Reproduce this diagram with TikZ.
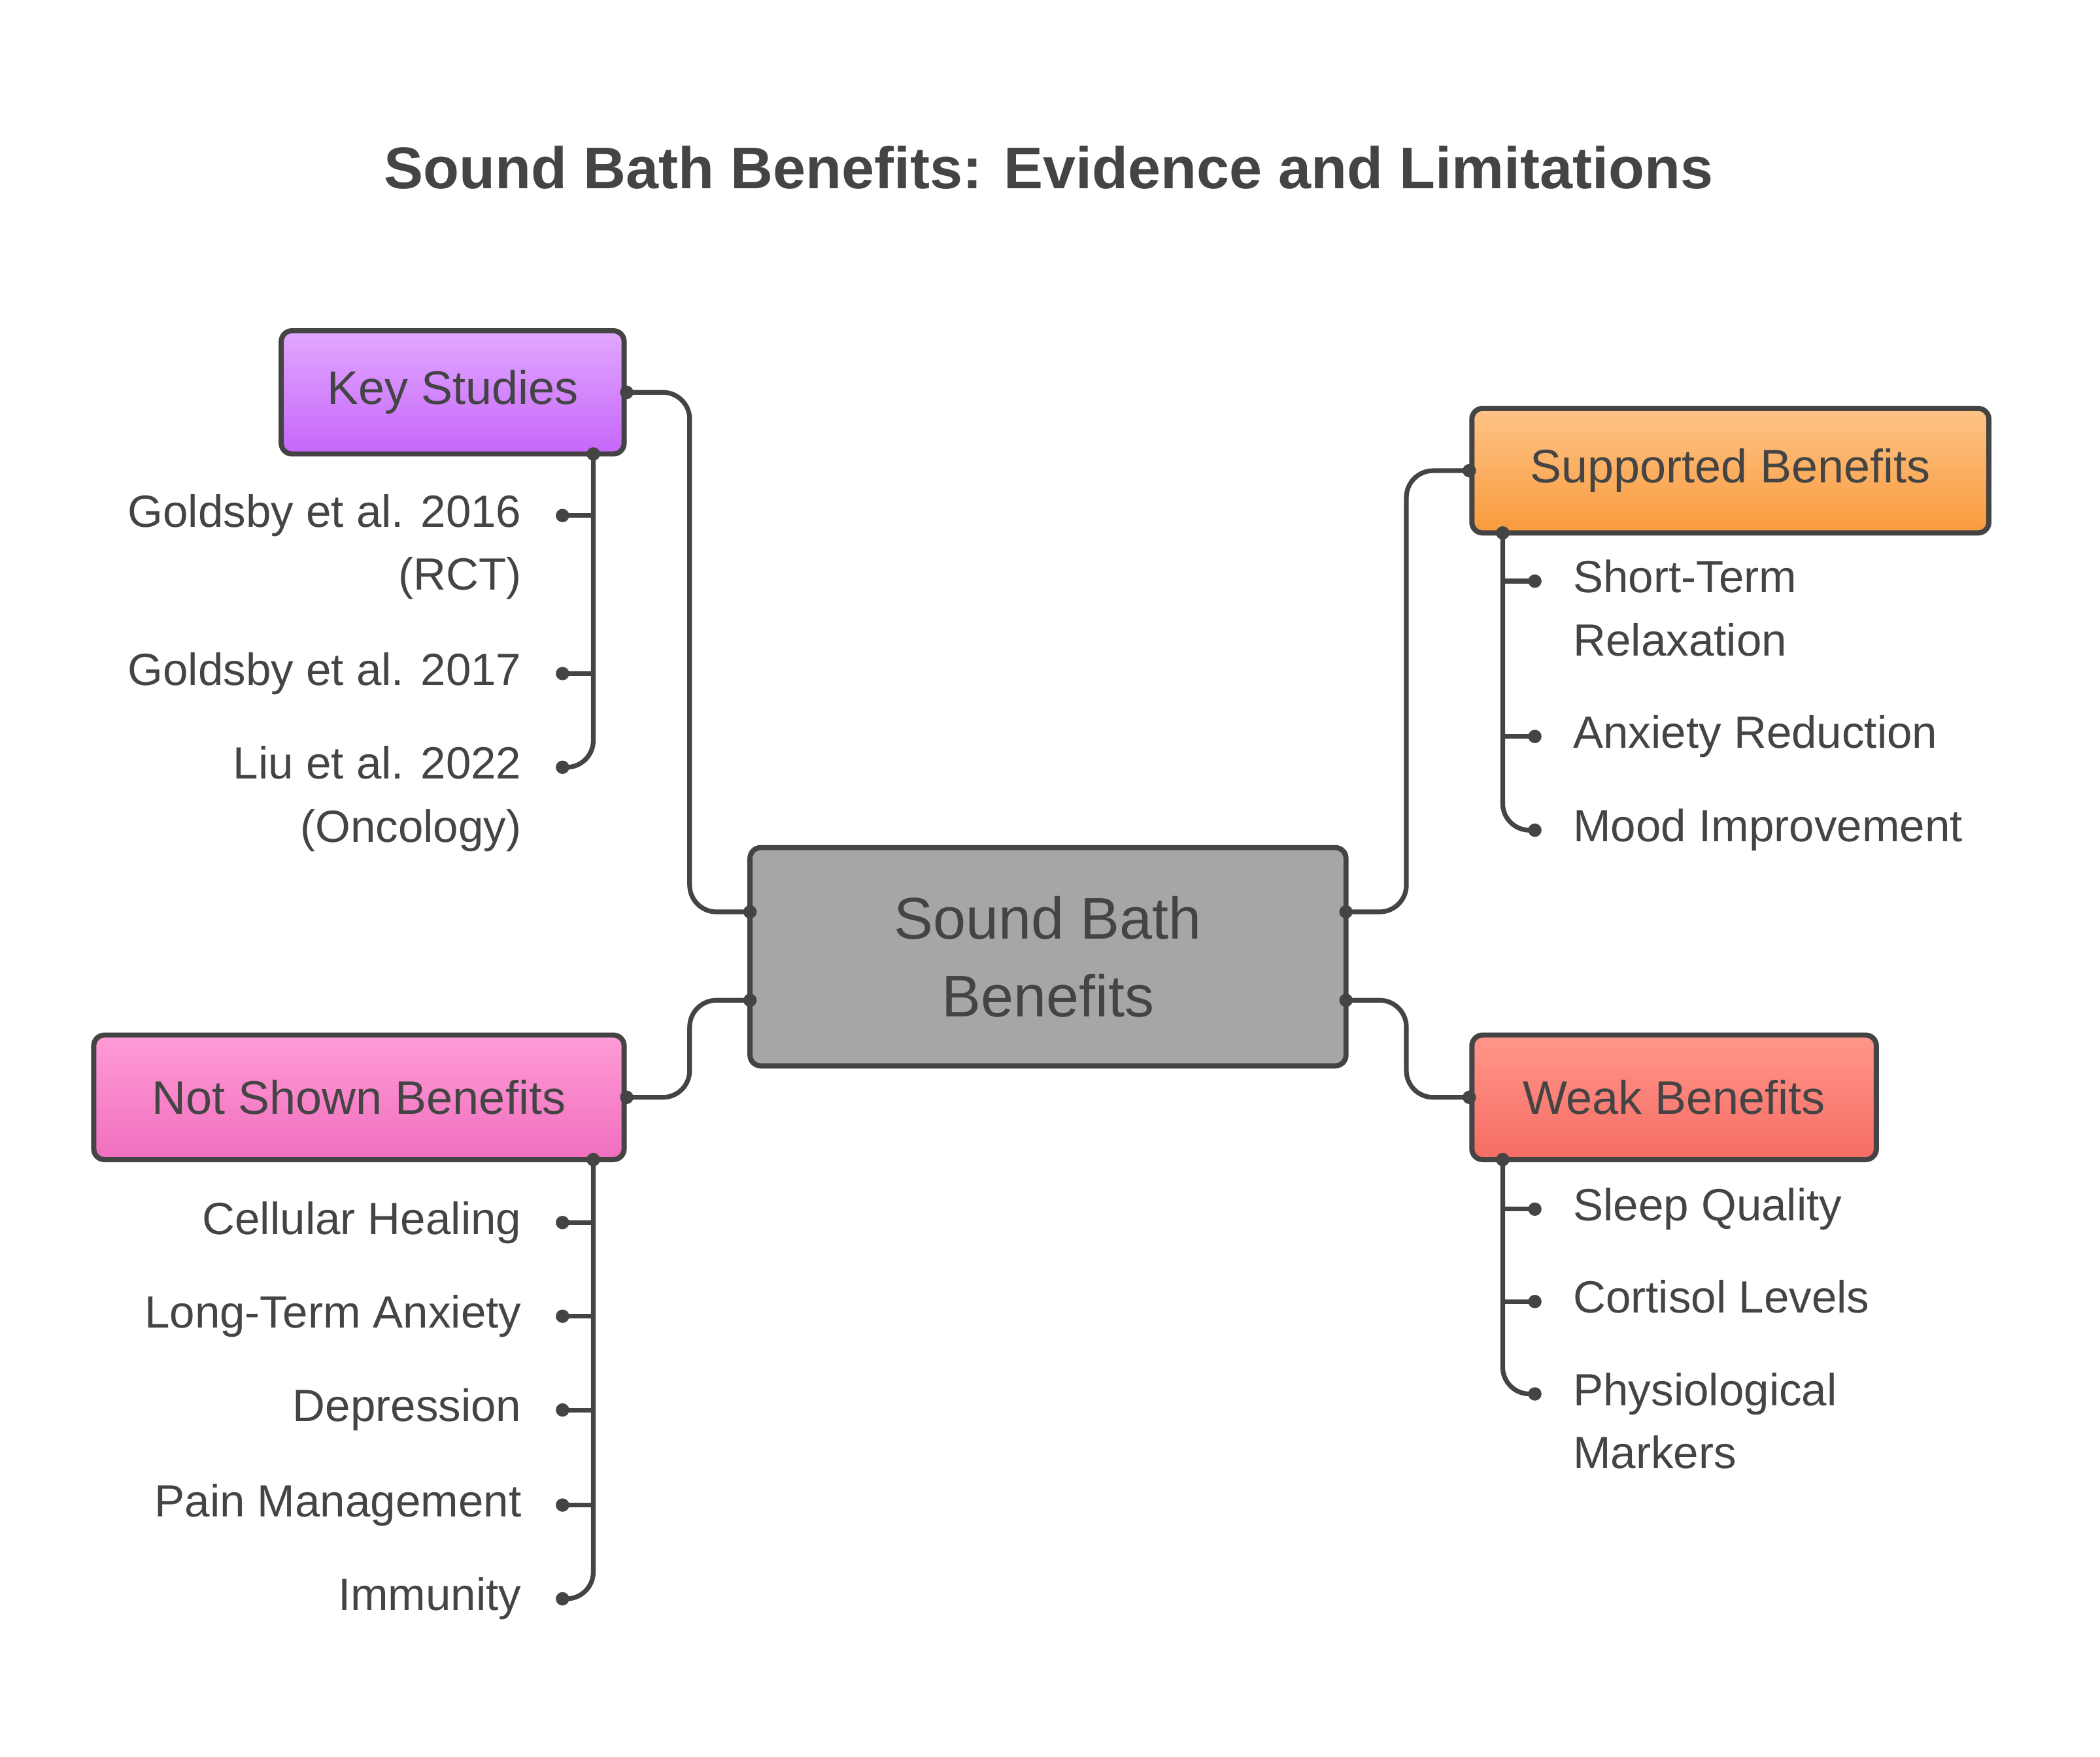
\documentclass[tikz,border=0pt]{standalone}
\usepackage{fontspec}
\setmainfont{Liberation Sans}
\usetikzlibrary{positioning, calc}
\definecolor{ink}{HTML}{444444}
\tikzset{
  box/.style={draw=ink, line width=1.1pt, rounded corners=0.08cm, inner sep=0pt,
    font=\fontsize{10}{13}\selectfont, text=ink},
  conn/.style={draw=ink, line width=1pt, rounded corners=0.2cm},
  item/.style={inner sep=0pt, font=\fontsize{9.6}{13.4}\selectfont, text=ink},
  dot/.style={fill=ink}
}
\begin{document}
\begin{tikzpicture}
  \useasboundingbox (0,0) rectangle (15.68,-13.12);
  % title
  \node[font=\bfseries\fontsize{12.5}{15}\selectfont, text=ink] (title) at (7.83,-1.25)
    {Sound Bath Benefits: Evidence and Limitations};

  % main boxes
  \node[box, fill=black!35, minimum width=4.45cm, minimum height=1.63cm, align=center,
    font=\fontsize{12.5}{16.5}\selectfont] (sbb) at (7.825,-7.145) {Sound Bath\\Benefits};
  \node[box, top color={rgb,255:red,226;green,168;blue,255}, bottom color={rgb,255:red,198;green,102;blue,250},
    minimum width=2.56cm, minimum height=0.92cm] (ks) at (3.38,-2.93) {Key Studies};
  \node[box, top color={rgb,255:red,255;green,196;blue,136}, bottom color={rgb,255:red,248;green,154;blue,60},
    minimum width=3.86cm, minimum height=0.93cm] (sb) at (12.92,-3.515) {Supported Benefits};
  \node[box, top color={rgb,255:red,255;green,150;blue,138}, bottom color={rgb,255:red,246;green,108;blue,100},
    minimum width=3.02cm, minimum height=0.93cm] (wb) at (12.50,-8.195) {Weak Benefits};
  \node[box, top color={rgb,255:red,255;green,156;blue,214}, bottom color={rgb,255:red,240;green,110;blue,190},
    minimum width=3.96cm, minimum height=0.93cm] (ns) at (2.68,-8.195) {Not Shown Benefits};

  % connectors from the centre
  \coordinate (cl1) at (5.60,-6.81);
  \coordinate (cl2) at (5.60,-7.47);
  \coordinate (cr1) at (10.05,-6.81);
  \coordinate (cr2) at (10.05,-7.47);
  \draw[conn] (ks.east) -- ++(0.47,0) |- (cl1);
  \draw[conn] (ns.east) -- ++(0.47,0) |- (cl2);
  \draw[conn] (sb.west) -- ++(-0.47,0) |- (cr1);
  \draw[conn] (wb.west) -- ++(-0.47,0) |- (cr2);
  \foreach \p in {cl1,cl2,cr1,cr2,ks.east,ns.east,sb.west,wb.west}
    \fill[dot] (\p) circle (0.05);

  % Key Studies
  \coordinate (ksb) at (4.43,-3.39);
  \foreach \n/\y/\t in {k1/3.85/{Goldsby et al. 2016 \\(RCT)}, k2/5.03/{Goldsby et al. 2017},
      k3/5.73/{Liu et al. 2022 \\(Oncology)}} {
    \coordinate (\n) at (4.20,-\y);
    \node[item, anchor=north east, align=right] (\n t) at (3.90,-\y+0.165) {\t};
  }
  \draw[conn] (ksb) -- (ksb |- k3) -- (k3);
  \foreach \n in {k1,k2} \draw[conn] (ksb |- \n) -- (\n);
  \foreach \p in {ksb,k1,k2,k3} \fill[dot] (\p) circle (0.05);

  % Not Shown Benefits
  \coordinate (nsb) at (4.43,-8.66);
  \foreach \n/\y/\t in {n1/9.13/{Cellular Healing}, n2/9.83/{Long-Term Anxiety}, n3/10.53/{Depression},
      n4/11.24/{Pain Management}, n5/11.94/{Immunity}} {
    \coordinate (\n) at (4.20,-\y);
    \node[item, anchor=north east, align=right] (\n t) at (3.90,-\y+0.165) {\t};
  }
  \draw[conn] (nsb) -- (nsb |- n5) -- (n5);
  \foreach \n in {n1,n2,n3,n4} \draw[conn] (nsb |- \n) -- (\n);
  \foreach \p in {nsb,n1,n2,n3,n4,n5} \fill[dot] (\p) circle (0.05);

  % Supported Benefits
  \coordinate (sbb0) at (11.22,-3.98);
  \foreach \n/\y/\t in {s1/4.34/{Short-Term\\Relaxation}, s2/5.50/{Anxiety Reduction},
      s3/6.20/{Mood Improvement}} {
    \coordinate (\n) at (11.46,-\y);
    \node[item, anchor=north west, align=left] (\n t) at (11.74,-\y+0.165) {\t};
  }
  \draw[conn] (sbb0) -- (sbb0 |- s3) -- (s3);
  \foreach \n in {s1,s2} \draw[conn] (sbb0 |- \n) -- (\n);
  \foreach \p in {sbb0,s1,s2,s3} \fill[dot] (\p) circle (0.05);

  % Weak Benefits
  \coordinate (wbb) at (11.22,-8.66);
  \foreach \n/\y/\t in {w1/9.03/{Sleep Quality}, w2/9.72/{Cortisol Levels},
      w3/10.41/{Physiological\\Markers}} {
    \coordinate (\n) at (11.46,-\y);
    \node[item, anchor=north west, align=left] (\n t) at (11.74,-\y+0.165) {\t};
  }
  \draw[conn] (wbb) -- (wbb |- w3) -- (w3);
  \foreach \n in {w1,w2} \draw[conn] (wbb |- \n) -- (\n);
  \foreach \p in {wbb,w1,w2,w3} \fill[dot] (\p) circle (0.05);
\end{tikzpicture}
\end{document}
